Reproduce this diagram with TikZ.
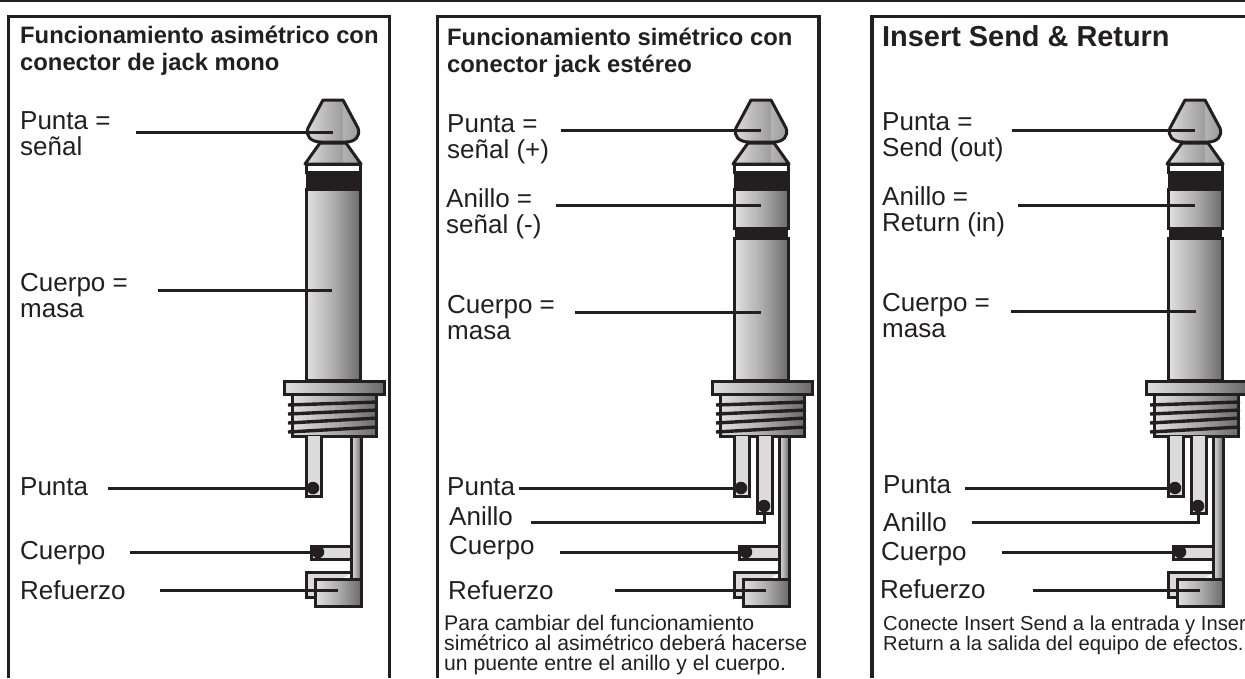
\documentclass[tikz,border=0pt]{standalone}
\usepackage{fontspec}
\setmainfont{Liberation Sans}
\definecolor{ink}{HTML}{231F20}
\pgfdeclarehorizontalshading{metal}{100bp}{color(0bp)=(black!12); color(25bp)=(black!12); color(50bp)=(black!32); color(75bp)=(black!58); color(100bp)=(black!58)}
\pgfdeclarehorizontalshading{tipmetal}{100bp}{color(0bp)=(black!12); color(25bp)=(black!12); color(41bp)=(black!26); color(50bp)=(black!32); color(58bp)=(black!38); color(59bp)=(black!30); color(75bp)=(black!40); color(100bp)=(black!40)}
\tikzset{
  x=1pt,y=-1pt,
  part/.style={draw=ink,line width=3pt,line join=miter,shading=metal},
  tippart/.style={draw=ink,line width=3pt,line join=round,shading=tipmetal},
  tabpart/.style={draw=ink,line width=3pt,fill=black!14},
  blackband/.style={fill=ink,draw=none},
  thread/.style={draw=ink,line width=3.4pt},
  solder/.style={circle,fill=ink,inner sep=0pt,minimum size=12.5pt},
  lead/.style={draw=ink,line width=3pt},
  frameline/.style={draw=ink,line width=3.2pt},
  heading/.style={anchor=base west,inner sep=0pt,font=\fontsize{23.8}{27}\selectfont\bfseries,text=ink,align=left},
  lbl/.style={anchor=base west,inner sep=0pt,font=\fontsize{26}{26}\selectfont,text=ink,align=left},
  note/.style={anchor=base west,inner sep=0pt,font=\fontsize{21.2}{20}\selectfont,text=ink,align=left},
}
% #1 prefix, #2 x-shift, #3 0 mono / 1 stereo
\newcommand{\jackplug}[3]{%
\begin{scope}[shift={(#2,0)}]
  \path[tippart] (323,100)--(343,100)--(358,128) .. controls (361,136) and (355,142) .. (346,142)--(321,142) .. controls (311,142) and (305,136) .. (308,128)--cycle;
  \path[tippart] (320,143)--(346,143)--(361,164)--(305,164)--cycle;
  \draw[draw=ink,line width=3pt,fill=white] (306.5,164) rectangle (360.5,172);
  \path[blackband] (305.5,172) rectangle (361.5,189);
  \ifnum#3=1
    \path[part] (306.5,189) rectangle (360.5,228);
    \path[blackband] (307,228) rectangle (360,238);
    \path[part] (306.5,238) rectangle (360.5,380);
  \else
    \path[part] (306.5,189) rectangle (360.5,380);
  \fi
  \path[part] (292,394) rectangle (376,436);
  \path[part] (284,381) rectangle (384,394);
  \draw[thread] (288,405)--(378,402);
  \draw[thread] (288,414)--(378,410);
  \draw[thread] (288,423)--(378,418);
  \draw[thread] (288,432)--(378,427);
  \path[tabpart] (306,436)--(306,496)--(321,496)--(321,436);
  \ifnum#3=1
    \path[tabpart] (329,436)--(329,513)--(344,513)--(344,436);
    \node[solder] (#1ringdot) at (336,506) {};
  \fi
  \path[tabpart] (352,546)--(311,546)--(311,559)--(352,559);
  \path[tabpart] (352,572)--(306,572)--(306,597)--(316,597);
  \path[part] (351,436) rectangle (361,580);
  \path[part] (315,579) rectangle (361,606);
  \node[solder] (#1tipdot) at (313,488) {};
  \node[solder] (#1bodydot) at (318,552) {};
  \coordinate (#1tip) at (333,130);
  \coordinate (#1ring) at (333,205);
  \coordinate (#1body) at (333,290);
  \coordinate (#1strain) at (338,590);
\end{scope}}
\begin{document}
\begin{tikzpicture}
\useasboundingbox (0,0) rectangle (1245,678);
\fill[white] (0,0) rectangle (1245,678);
\draw[draw=ink,line width=2pt] (0,0.5)--(1245,0.5);
\draw[frameline] (8.5,678)--(8.5,16.5)--(389.5,16.5)--(389.5,678);
\draw[frameline] (437.5,678)--(437.5,16.5)--(819,16.5)--(819,678);
\draw[frameline] (872,678)--(872,16.5)--(1245,16.5);

% Panel 1
\jackplug{a}{0}{0}
\node[heading] (a1) at (20,70) {Funcionamiento asimétrico con\\conector de jack mono};
\node[lbl] (a2) at (20,155) {Punta =\\señal};
\node[lbl] (a3) at (20,317) {Cuerpo =\\masa};
\node[lbl] (a4) at (20,495) {Punta};
\node[lbl] (a5) at (20,559) {Cuerpo};
\node[lbl] (a6) at (20,599) {Refuerzo};
\coordinate (a2e) at (136,132);\coordinate (a2f) at (333,132);
\coordinate (a3e) at (158,290);\coordinate (a3f) at (332,290);
\coordinate (a4e) at (108,488);
\coordinate (a5e) at (130,552);
\coordinate (a6e) at (160,590);
\draw[lead] (a2e)--(a2f);
\draw[lead] (a3e)--(a3f);
\draw[lead] (a4e)--(atipdot);
\draw[lead] (a5e)--(abodydot);
\draw[lead] (a6e)--(astrain);

% Panel 2
\jackplug{b}{428}{1}
\node[heading] (b1) at (447,72) {Funcionamiento simétrico con\\conector jack estéreo};
\node[lbl] (b2) at (447,158) {Punta =\\señal (+)};
\node[lbl] (b3) at (446,233) {Anillo =\\señal (-)};
\node[lbl] (b4) at (447,339) {Cuerpo =\\masa};
\node[lbl] (b5) at (447,495) {Punta};
\node[lbl] (b6) at (449,525) {Anillo};
\node[lbl] (b7) at (449,554) {Cuerpo};
\node[lbl] (b8) at (448,599) {Refuerzo};
\node[note] (b9) at (444,670) {Para cambiar del funcionamiento\\simétrico al asimétrico deberá hacerse\\un puente entre el anillo y el cuerpo.};
\coordinate (b2e) at (561,130);
\coordinate (b3e) at (556,205);
\coordinate (b4e) at (575,312);
\coordinate (b5e) at (519,488);
\coordinate (b6e) at (531,522);
\coordinate (b6k) at (764,522);
\coordinate (b7e) at (560,552);
\coordinate (b8e) at (615,590);
\coordinate (b4f) at (761,312);
\draw[lead] (b2e)--(btip);
\draw[lead] (b3e)--(bring);
\draw[lead] (b4e)--(b4f);
\draw[lead] (b5e)--(btipdot);
\draw[lead] (b6e)--(b6k)--(bringdot);
\draw[lead] (b7e)--(bbodydot);
\draw[lead] (b8e)--(bstrain);

% Panel 3
\jackplug{c}{862}{1}
\node[heading,font=\fontsize{28.9}{27}\selectfont\bfseries] (c1) at (882,46) {Insert Send \& Return};
\node[lbl] (c2) at (882,156) {Punta =\\Send (out)};
\node[lbl] (c3) at (882,231) {Anillo =\\Return (in)};
\node[lbl] (c4) at (882,337) {Cuerpo =\\masa};
\node[lbl] (c5) at (883,493) {Punta};
\node[lbl] (c6) at (883,531) {Anillo};
\node[lbl] (c7) at (881,560) {Cuerpo};
\node[lbl] (c8) at (880,598) {Refuerzo};
\node[note,font=\fontsize{20.2}{20}\selectfont] (c9) at (883,650) {Conecte Insert Send a la entrada y Inser\\Return a la salida del equipo de efectos.};
\coordinate (c2e) at (1012,130);
\coordinate (c3e) at (1018,205);
\coordinate (c4e) at (1011,311);
\coordinate (c5e) at (965,488);
\coordinate (c6e) at (972,522);
\coordinate (c6k) at (1198,522);
\coordinate (c7e) at (1002,552);
\coordinate (c8e) at (1033,590);
\coordinate (c4f) at (1196,311);
\draw[lead] (c2e)--(ctip);
\draw[lead] (c3e)--(cring);
\draw[lead] (c4e)--(c4f);
\draw[lead] (c5e)--(ctipdot);
\draw[lead] (c6e)--(c6k)--(cringdot);
\draw[lead] (c7e)--(cbodydot);
\draw[lead] (c8e)--(cstrain);
\end{tikzpicture}
\end{document}
